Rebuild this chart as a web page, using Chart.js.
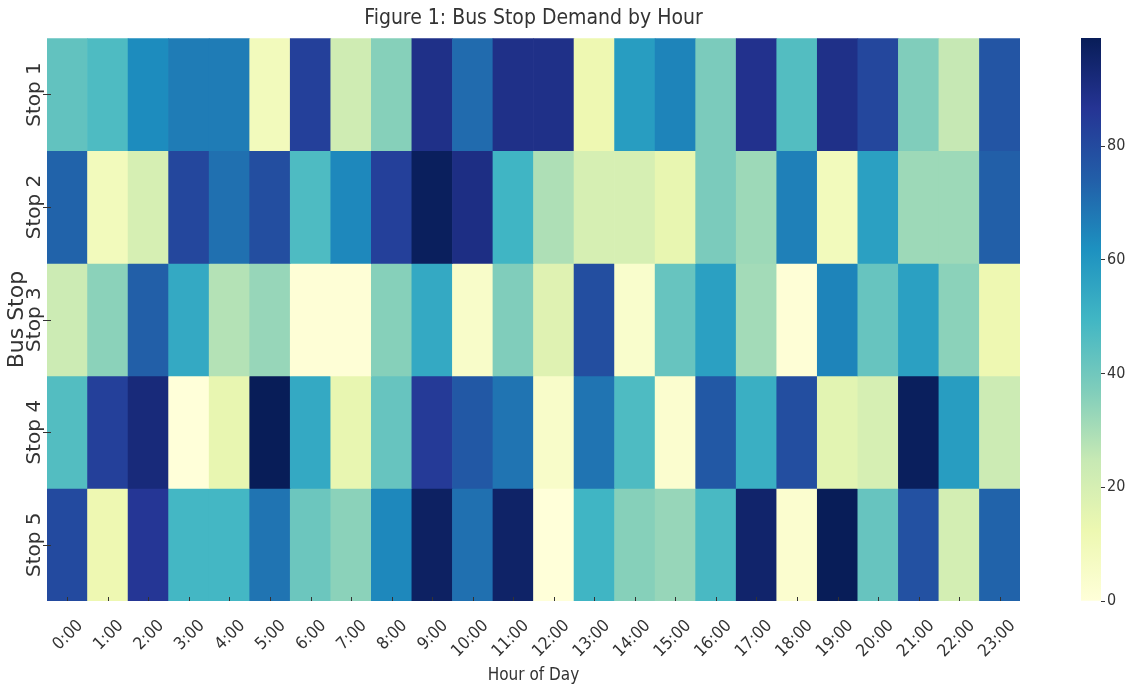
<!DOCTYPE html>
<html>
<head>
<meta charset="utf-8">
<script src="https://cdn.jsdelivr.net/npm/chart.js"></script>
<style>
  html, body { margin: 0; padding: 0; background: #ffffff; }
  #wrap { position: relative; width: 1127px; height: 689px; }
  #main { position: absolute; left: 0; top: 0; }
  #cbar { position: absolute; left: 1040px; top: 0; }
</style>
</head>
<body>
<div id="wrap">
  <canvas id="main" width="1127" height="689"></canvas>
  <canvas id="cbar" width="87" height="689"></canvas>
</div>
<script>
// ---- Data ----
const hours = ['0:00','1:00','2:00','3:00','4:00','5:00','6:00','7:00','8:00','9:00','10:00','11:00',
               '12:00','13:00','14:00','15:00','16:00','17:00','18:00','19:00','20:00','21:00','22:00','23:00'];
const stops = ['Stop 1','Stop 2','Stop 3','Stop 4','Stop 5'];
const stop1 = [43, 47, 63, 67, 67,  9, 83, 22, 36, 89, 71, 89, 89, 12, 58, 65, 38, 88, 46, 89, 81, 37, 25, 77];
const stop2 = [73,  9, 20, 81, 70, 79, 47, 64, 83, 98, 90, 50, 29, 20, 20, 14, 38, 32, 66,  9, 57, 32, 32, 74];
const stop3 = [23, 35, 74, 54, 28, 33,  1,  1, 36, 54,  5, 37, 17, 79,  4, 42, 57, 31,  1, 65, 42, 57, 35, 12];
const stop4 = [46, 83, 92,  0, 14, 99, 54, 14, 42, 85, 76, 69,  5, 69, 47,  3, 76, 52, 79, 16, 20, 98, 58, 23];
const stop5 = [80, 12, 86, 49, 49, 69, 41, 35, 64, 97, 70, 96,  0, 50, 36, 33, 48, 95,  3, 99, 42, 78, 21, 73];
const colorbarTicks = [0, 20, 40, 60, 80];
const vMin = 0, vMax = 99;

const rows = [stop1, stop2, stop3, stop4, stop5];

// ---- YlGnBu colormap ----
const YlGnBu = ['#ffffd9','#edf8b1','#c7e9b4','#7fcdbb','#41b6c4','#1d91c0','#225ea8','#253494','#081d58'];
function hexToRgb(h) { return [parseInt(h.slice(1,3),16), parseInt(h.slice(3,5),16), parseInt(h.slice(5,7),16)]; }
const YlGnBuRgb = YlGnBu.map(hexToRgb);
function cmap(v) {
  let t = (v - vMin) / (vMax - vMin);
  t = Math.max(0, Math.min(1, t));
  const pos = t * (YlGnBuRgb.length - 1);
  const i = Math.min(Math.floor(pos), YlGnBuRgb.length - 2);
  const f = pos - i;
  const a = YlGnBuRgb[i], b = YlGnBuRgb[i + 1];
  const c = a.map((x, k) => Math.round(x + (b[k] - x) * f));
  return 'rgb(' + c.join(',') + ')';
}

const FONT = '"DejaVu Sans Condensed", "DejaVu Sans", sans-serif';
const TEXT = '#333333';

// Row labels (rotated) and small tick marks, placed via the chart's scales
const heatmapDecor = {
  id: 'heatmapDecor',
  afterDraw(chart) {
    const sx = chart.scales.x, sy = chart.scales.y, area = chart.chartArea;
    const ctx = chart.ctx;
    ctx.save();
    ctx.strokeStyle = '#333333';
    ctx.lineWidth = 1;
    ctx.beginPath();
    sx.ticks.forEach((t, i) => {
      const x = Math.round(sx.getPixelForTick(i)) + 0.5;
      ctx.moveTo(x, area.bottom);
      ctx.lineTo(x, area.bottom - 4);
    });
    sy.ticks.forEach((t) => {
      const y = Math.round(sy.getPixelForValue(t.value)) + 0.5;
      ctx.moveTo(area.left - 4, y);
      ctx.lineTo(area.left + 4, y);
    });
    ctx.stroke();
    ctx.fillStyle = TEXT;
    ctx.font = '20px "DejaVu Sans", sans-serif';
    ctx.textAlign = 'center';
    ctx.textBaseline = 'alphabetic';
    sy.ticks.forEach((t, i) => {
      const y = sy.getPixelForValue(t.value);
      ctx.save();
      ctx.translate(area.left - 7, y);
      ctx.rotate(-Math.PI / 2);
      ctx.fillText(stops[i], 0, 0);
      ctx.restore();
    });
    ctx.restore();
  }
};

new Chart(document.getElementById('main'), {
  type: 'bar',
  data: {
    labels: hours,
    datasets: rows.map((vals, i) => ({
      label: stops[i],
      data: vals.map(() => [i, i + 1]),
      backgroundColor: vals.map(cmap),
      borderWidth: 0,
      grouped: false,
      barPercentage: 1,
      categoryPercentage: 1
    }))
  },
  options: {
    responsive: false,
    animation: false,
    layout: { padding: { left: 0, right: 107, top: 0, bottom: 0 } },
    plugins: {
      legend: { display: false },
      tooltip: { enabled: false },
      title: {
        display: true,
        text: 'Figure 1: Bus Stop Demand by Hour',
        fullSize: false,
        color: TEXT,
        font: { family: FONT, size: 21, weight: 'normal' },
        padding: { top: 6, bottom: 7 }
      }
    },
    scales: {
      x: {
        type: 'category',
        offset: true,
        border: { display: false },
        grid: { display: false },
        ticks: {
          autoSkip: false, minRotation: 45, maxRotation: 45,
          color: TEXT, font: { family: FONT, size: 17 },
          padding: 7, labelOffset: 13
        },
        title: {
          display: true, text: 'Hour of Day', color: TEXT,
          font: { family: FONT, size: 17 }, padding: { top: 0, bottom: 3 }
        },
        afterFit: s => { s.height = 88; }
      },
      y: {
        type: 'linear',
        min: 0, max: 5,
        reverse: true,
        border: { display: false },
        afterBuildTicks: s => { s.ticks = stops.map((_, i) => ({ value: i + 0.5 })); },
        grid: { display: false },
        ticks: { display: false },
        title: {
          display: true, text: 'Bus Stop', color: TEXT,
          font: { family: '"DejaVu Sans", sans-serif', size: 22 }, padding: { top: 4, bottom: 0 }
        },
        afterFit: s => { s.width = 47; }
      }
    }
  },
  plugins: [heatmapDecor]
});

// ---- Colorbar ----
function gradientFill(context) {
  const chart = context.chart;
  const area = chart.chartArea;
  if (!area) return cmap(vMax);
  const y = chart.scales.y;
  const g = chart.ctx.createLinearGradient(0, y.getPixelForValue(vMin), 0, y.getPixelForValue(vMax));
  YlGnBu.forEach((c, i) => g.addColorStop(i / (YlGnBu.length - 1), c));
  return g;
}

new Chart(document.getElementById('cbar'), {
  type: 'bar',
  data: {
    labels: ['Demand'],
    datasets: [{
      data: [[vMin, vMax]],
      backgroundColor: gradientFill,
      borderWidth: 0,
      barPercentage: 1,
      categoryPercentage: 1
    }]
  },
  options: {
    responsive: false,
    animation: false,
    layout: { padding: { left: 41, right: 0, top: 38, bottom: 88 } },
    plugins: { legend: { display: false }, tooltip: { enabled: false } },
    scales: {
      x: { display: false },
      y: {
        position: 'right',
        min: vMin, max: vMax,
        afterBuildTicks: s => { s.ticks = colorbarTicks.map(v => ({ value: v })); },
        border: { display: false },
        grid: { drawOnChartArea: false, drawTicks: true, tickLength: 4, color: '#333333' },
        ticks: { color: TEXT, font: { family: FONT, size: 16 }, padding: 2 },
        afterFit: s => { s.width = 26; }
      }
    }
  }
});
</script>
</body>
</html>
